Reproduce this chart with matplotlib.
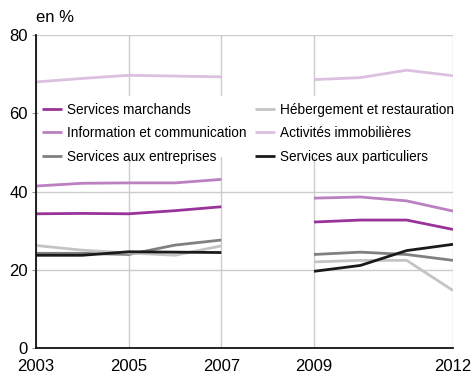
import numpy as np
import matplotlib
matplotlib.use("Agg")
import matplotlib.pyplot as plt
from matplotlib.patches import Rectangle

plt.rcParams['font.family'] = ['Liberation Sans', 'DejaVu Sans']

years = [2003, 2004, 2005, 2006, 2007, 2008, 2009, 2010, 2011, 2012]
nan = np.nan
services_marchands = [34.3, 34.4, 34.3, 35.1, 36.1, nan, 32.2, 32.7, 32.7, 30.3]
info_comm = [41.4, 42.1, 42.2, 42.2, 43.1, nan, 38.3, 38.6, 37.6, 35.0]
services_entreprises = [24.2, 24.2, 23.9, 26.3, 27.6, nan, 23.9, 24.5, 23.9, 22.4]
hebergement = [26.2, 25.0, 24.3, 23.7, 26.1, nan, 22.0, 22.4, 22.4, 14.7]
immobilieres = [68.0, 68.9, 69.7, 69.5, 69.3, nan, 68.6, 69.1, 71.0, 69.6]
particuliers = [23.7, 23.7, 24.6, 24.5, 24.4, nan, 19.6, 21.1, 24.9, 26.5]

labels = ["Services marchands", "Information et communication", "Services aux entreprises",
          "Hébergement et restauration", "Activités immobilières", "Services aux particuliers"]
series = [services_marchands, info_comm, services_entreprises, hebergement, immobilieres, particuliers]
colors = ["#993399", "#bb80c0", "#808080", "#c4c4c4", "#dcc0e0", "#1a1a1a"]

xticks = [2003, 2005, 2007, 2009, 2012]
yticks = [0, 20, 40, 60, 80]

W, H = 471, 374
fig = plt.figure(figsize=(W / 100, H / 100), dpi=100)
ax = fig.add_axes([36 / W, 26 / H, 417 / W, 313 / H])

handles = []
for lab, vals, c in zip(labels, series, colors):
    h, = ax.plot(years, vals, color=c, lw=2.0, label=lab, solid_capstyle='butt', zorder=3)
    handles.append(h)

ax.set_xlim(2003, 2012)
ax.set_ylim(0, 80)
ax.set_xticks(xticks)
ax.set_xticklabels([str(x) for x in xticks])
ax.set_yticks(yticks)
ax.grid(True, color="#cccccc", lw=1.0, zorder=0)
ax.set_axisbelow(True)
for s in ["top", "right"]:
    ax.spines[s].set_visible(False)
for s in ["left", "bottom"]:
    ax.spines[s].set_color("#111111")
    ax.spines[s].set_linewidth(1.3)
    ax.spines[s].set_zorder(5)
ax.tick_params(axis='x', length=0, labelsize=12, pad=8)
ax.tick_params(axis='y', length=3, color="#999999", labelsize=12, pad=3)

def px(x, y):
    return ((x - 36) / 417, (348 - y) / 313)

# white backdrop behind the legend
x0, y0 = px(39, 157)
x1, y1 = px(451, 96)
ax.add_patch(Rectangle((x0, y0), x1 - x0, y1 - y0, transform=ax.transAxes,
                       facecolor="white", edgecolor="none", zorder=2))

common = dict(frameon=False, fontsize=9.8, handlelength=1.45, handletextpad=0.4,
              labelspacing=0.68, borderpad=0, borderaxespad=0, loc="upper left")
la = ax.legend(handles[0:3], labels[0:3], bbox_to_anchor=px(42, 103), **common)
la.set_zorder(4)
ax.add_artist(la)
lb = ax.legend(handles[3:6], labels[3:6], bbox_to_anchor=px(255, 103), **common)
lb.set_zorder(4)

fig.text(36 / W, 1 - 18 / H, "en %", fontsize=12, ha="left", va="center")

fig.savefig("out.png", dpi=100)
